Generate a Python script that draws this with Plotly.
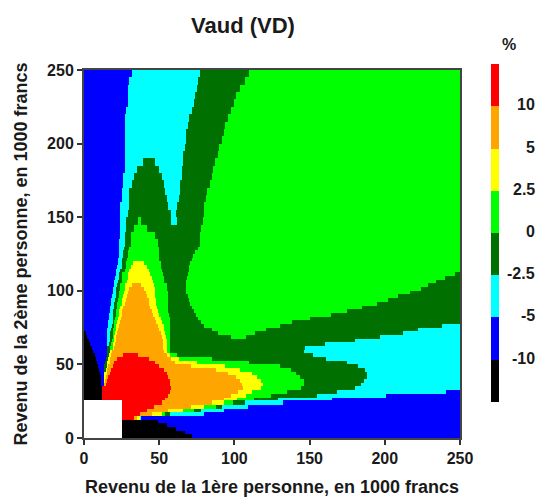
import numpy as np
import plotly.graph_objects as go

TITLE = "Vaud (VD)"
X_TITLE = "Revenu de la 1ère personne, en 1000 francs"
Y_TITLE = "Revenu de la 2ème personne, en 1000 francs"
TICKS = [0, 50, 100, 150, 200, 250]
CLASSES = "KBCDGYOR"
COLORS = ["#000000", "#0000ff", "#00ffff", "#007000", "#00ff00", "#ffff00", "#ffa500", "#ff0000"]
LEVELS = ["-10", "-5", "-2.5", "0", "2.5", "5", "10"]

# upper edges of the rows, top to bottom; each row: class + x where that class ends
ROW_TOPS = [250, 245, 240, 235, 230, 225, 220, 215, 210, 205, 200, 195, 190, 185, 180, 175, 170, 165, 160, 155, 150, 145, 140, 135,
            130, 127.5, 125, 122.5, 120, 117.5, 115, 112.5, 110, 107.5, 105, 102.5, 100, 97.5, 95, 92.5, 90, 87.5, 85, 82.5, 80,
            77.5, 75, 72.5, 70, 67.5, 65, 62.5, 60, 57.5, 55, 52.5, 50, 47.5, 45, 42.5, 40, 37.5, 35, 32.5, 30, 27.5,
            25.7, 22.5, 20, 17.5, 15, 12.5, 10, 7.5, 5, 2.5]
ROWS = [
 "B32 C77 D110 G250", "B30 C76 D107 G250", "B29 C75 D104 G250", "B29 C74 D101 G250",
 "B29 C73 D100 G250", "B28 C72 D98 G250", "B27 C70 D96 G250", "B27 C69 D94 G250",
 "B27 C68 D93 G250", "B27 C68 D92 G250", "B27 C67 D90 G250", "B27 C66 D89 G250",
 "B27 C39 D47 C66 D87 G250", "B27 C35 D50 C65 D86 G250", "B26 C33 D52 C65 D85 G250",
 "B26 C32 D53 C64 D84 G250", "B25 C30 D54 C64 D82 G250", "B25 C30 D55 C63 D81 G250",
 "B24 C30 D56 C62 D80 G250", "B24 C29 D58 C61 D80 G250", "B24 C28 D36 G38 D58 C62 D79 G250",
 "B24 C28 D33 G42 D78 G250", "B24 C27 D31 G47 D77 G250", "B23 C27 D31 G49 D77 G250",
 "B23.5 C26.5 D30 G50 D75.5 G250", "B23 C26 D29.5 G50 D74 G250", "B23 C26 D29 G50 D72.5 G250",
 "B22.5 C25.5 D28.5 G50 D71.5 G250", "B22.5 C25.5 D28 G32.5 Y40 G51 D70.5 G250",
 "B22 C25 D28 G31 Y42 G51 D70 G250", "B21 C24 D27 G30 Y43 G52 D69.5 G250",
 "B21 C23 D25.5 G29.5 Y44 G52.5 D69 G247 D250", "B20.5 C23 D25 G29 Y45 G53 D68.5 G240 D250",
 "B20 C22.5 D25 G28.5 Y46 G53.5 D68 G234 D250", "B20 C22 D24 G27.5 Y32 O38 Y46.5 G55 D68 G229 D250",
 "B19.5 C21.5 D24 G27 Y30 O40 Y47 G55.5 D68 G224 D250", "B19 C21 D23.5 G26.5 Y29 O41 Y47 G56 D68 G217 D250",
 "B18.5 C21 D23 G26 Y28.5 O42 Y47.5 G56 D69 G209 D250", "B18 C20.5 D22.5 G25.5 Y28 O43 Y48 G56 D70 G202 D250",
 "B18 C20 D22 G25 Y27 O43.5 Y48 G56 D70.5 G195 D250", "B17.5 C20 D22 G24 Y26 O44 Y48.5 G56 D72 G185 D250",
 "B17 C19.5 D21.5 G23.5 Y25.5 O45 Y49 G56 D73 G175 D250", "B16.5 C19 D21 G23 Y25 O46 Y50 G56.5 D74.5 G164 D250",
 "B16.5 C19 D20.5 G22.5 Y24.5 O47 Y51 G57 D76 G150 D250", "B16 C19 D20 G22 Y24 O48 Y52 G57 D78 G138 D250",
 "B16 C18.5 D20 G21.5 Y23 O49.5 Y53 G57 D80 G130 D238 C250", "B15.5 C18 D19.5 G21 Y22.5 O50 Y53.5 G57 D85 G121 D222 C250",
 "K1 B15.5 C17.5 D19 G20.5 Y22 O51 Y54 G57 D89 G114 D212 C250", "K2 B15.5 C17 D19 G20 Y21.5 O52 Y54.5 G57.5 D98 G108 D197 C250",
 "K3 B15.5 C17 D18.5 G20 Y21 O52.5 Y55 G57.5 D180 C250", "K4 B15.5 C16.5 D18 G19.5 Y20.5 O52.5 Y55 G57.5 D160 C250",
 "K5 B15.5 D17.5 G19 Y20 O52.5 Y55 G57.5 D147 C250", "K6 B15 D17 Y18.5 O53 Y55.5 G57.5 D146 C250",
 "K7.5 B15 D16.5 Y18 O26 R36 O55.5 Y57.5 G62 D152 C250", "K8 B14.5 D16 Y17.5 O22 R43 O58 Y63 G85 D161 C250",
 "K8.5 B14 D15.5 Y17 O20 R47 O60.5 Y75 G110 D175 C250", "K9 B13.5 D15 Y16 O19 R50 O71 Y94 G130 D182 C250",
 "K10 B13.5 D14.5 Y15.5 O18 R53 O88 Y104 G137.5 D187 C250", "K10.5 B13 Y15 O17 R55 O96 Y112 G141 D188 C250",
 "K11 B13 Y14.5 O16 R56 O101 Y115 G143.5 D188 C250", "K11 B13 Y14 O15 R57 O104 Y118 G146 D186 C250",
 "K11.5 B13 O14.5 R57.5 O105 Y119 G146 D184 C250", "K12 R58 O106 Y118 G144 D180 C250",
 "K12 R57.5 O102.5 Y112 G135 D168 C241 B250", "K12 R56 O98 Y107.5 G124 D155 C201 B250",
 "K12 R54 O93 Y102 G113 D129 C165 B250",
 "W25.7 R52 O85 Y93 G99 D107 C132 B250", "W25.7 R46.5 O71 Y80 G88 D92 C109 B250",
 "W25.7 R42 O56 Y66 G73 D78 C93 B250", "W25.7 R37 O45 Y52 G54 D57 C80 B250",
 "W25.7 R33 O35 Y37 C38 B250", "W25.7 K49 B250", "W25.7 K55 B250", "W25.7 K61 B250",
 "W25.7 K67 B250", "W25.7 K72 B250",
]

# plot frame and text positions in page pixels
W, H = 542, 497
L, R, T, B = 84, 460, 70, 438
FONT = "Liberation Sans"
INK = "#1a1a1a"

cell = 0.5
x_edges = np.arange(0, 250 + cell, cell)
x_mid = (x_edges[:-1] + x_edges[1:]) / 2
y_edges = [0] + ROW_TOPS[::-1]


def parse(row):
    out = np.full(x_mid.shape, np.nan)
    start = 0.0
    for run in row.split():
        end = float(run[1:])
        if run[0] != "W":
            out[(x_mid >= start) & (x_mid < end)] = CLASSES.index(run[0])
        start = end
    return out


z = np.array([parse(r) for r in ROWS[::-1]])

n = len(CLASSES)
scale = []
for i, c in enumerate(COLORS):
    scale += [[i / n, c], [(i + 1) / n, c]]


def px(v):
    return (v - L) / (R - L)


def py(v):
    return (B - v) / (B - T)


fig = go.Figure(go.Heatmap(
    x=x_edges, y=y_edges, z=z, zmin=-0.5, zmax=n - 0.5, colorscale=scale, hoverongaps=False,
    colorbar=dict(thickness=8, thicknessmode="pixels", len=338, lenmode="pixels", x=px(491), xanchor="left",
                  xpad=0, ypad=0, y=py(64), yanchor="top", outlinewidth=0, ticks="", showticklabels=False),
))

ann = [
    dict(text=TITLE, x=px(243), y=py(25), size=18, ),
    dict(text="%", x=px(509), y=py(44), size=16),
]
for i, lab in enumerate(LEVELS):
    fig.add_annotation(text=lab, xref="paper", yref="paper", x=px(537), y=py(358 - i * 42.2), xanchor="right",
                       yanchor="middle", showarrow=False, font=dict(family=FONT, size=16, color=INK, weight=700))
for a in ann:
    fig.add_annotation(text=a["text"], xref="paper", yref="paper", x=a["x"], y=a["y"], xanchor="center",
                       yanchor="middle", showarrow=False,
                       font=dict(family=FONT, size=22 if a["text"] == TITLE else a["size"], color=INK, weight=700))

axis = dict(range=[0, 250], tickmode="array", tickvals=TICKS, ticks="outside", ticklen=5, tickwidth=1.5, tickcolor="#333",
            showline=True, linewidth=2, linecolor="#444", mirror=True, showgrid=False, zeroline=False, automargin=False,
            tickfont=dict(family=FONT, size=16, color=INK, weight=700))
fig.update_layout(
    width=W, height=H, autosize=False, margin=dict(l=L, r=W - R, t=T, b=H - B), plot_bgcolor="white", paper_bgcolor="white",
    xaxis=dict(axis, title=dict(text=X_TITLE, font=dict(family=FONT, size=18, color=INK, weight=700))),
    yaxis=dict(axis, title=dict(text=Y_TITLE, font=dict(family=FONT, size=18, color=INK, weight=700))),
)
fig.write_html("out.html", config=dict(displayModeBar=False), post_script="document.body.style.margin='0';")
